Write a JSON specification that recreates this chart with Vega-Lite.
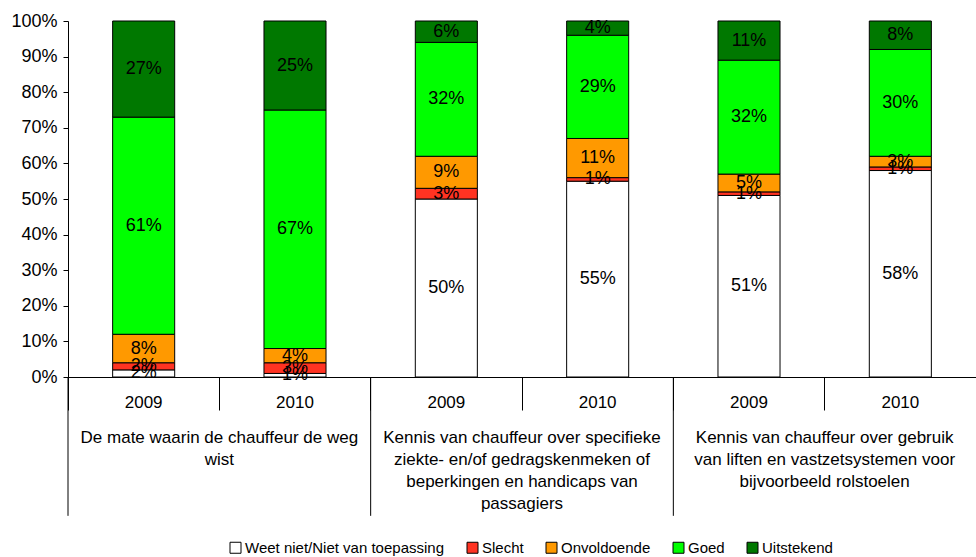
{
  "$schema": "https://vega.github.io/schema/vega-lite/v6.json",
  "width": 908,
  "height": 356,
  "autosize": "none",
  "padding": {"left": 68, "top": 21, "right": 0, "bottom": 180},
  "background": "white",
  "config": {
    "font": "Liberation Sans",
    "view": {"stroke": null},
    "axis": {"domainColor": "black", "tickColor": "black", "labelColor": "black", "grid": false, "title": null, "labelOverlap": false, "labelSeparation": 0},
    "axisY": {"tickCount": 11, "labelOverlap": false, "labelFontSize": 18, "tickSize": 5, "labelPadding": 6}
  },
  "datasets": {
    "bars": [
      {"key": "A 2009", "cat": "Weet niet/Niet van toepassing", "value": 0.02},
      {"key": "A 2009", "cat": "Slecht", "value": 0.02},
      {"key": "A 2009", "cat": "Onvoldoende", "value": 0.08},
      {"key": "A 2009", "cat": "Goed", "value": 0.61},
      {"key": "A 2009", "cat": "Uitstekend", "value": 0.27},
      {"key": "A 2010", "cat": "Weet niet/Niet van toepassing", "value": 0.01},
      {"key": "A 2010", "cat": "Slecht", "value": 0.03},
      {"key": "A 2010", "cat": "Onvoldoende", "value": 0.04},
      {"key": "A 2010", "cat": "Goed", "value": 0.67},
      {"key": "A 2010", "cat": "Uitstekend", "value": 0.25},
      {"key": "B 2009", "cat": "Weet niet/Niet van toepassing", "value": 0.50},
      {"key": "B 2009", "cat": "Slecht", "value": 0.03},
      {"key": "B 2009", "cat": "Onvoldoende", "value": 0.09},
      {"key": "B 2009", "cat": "Goed", "value": 0.32},
      {"key": "B 2009", "cat": "Uitstekend", "value": 0.06},
      {"key": "B 2010", "cat": "Weet niet/Niet van toepassing", "value": 0.55},
      {"key": "B 2010", "cat": "Slecht", "value": 0.01},
      {"key": "B 2010", "cat": "Onvoldoende", "value": 0.11},
      {"key": "B 2010", "cat": "Goed", "value": 0.29},
      {"key": "B 2010", "cat": "Uitstekend", "value": 0.04},
      {"key": "C 2009", "cat": "Weet niet/Niet van toepassing", "value": 0.51},
      {"key": "C 2009", "cat": "Slecht", "value": 0.01},
      {"key": "C 2009", "cat": "Onvoldoende", "value": 0.05},
      {"key": "C 2009", "cat": "Goed", "value": 0.32},
      {"key": "C 2009", "cat": "Uitstekend", "value": 0.11},
      {"key": "C 2010", "cat": "Weet niet/Niet van toepassing", "value": 0.58},
      {"key": "C 2010", "cat": "Slecht", "value": 0.01},
      {"key": "C 2010", "cat": "Onvoldoende", "value": 0.03},
      {"key": "C 2010", "cat": "Goed", "value": 0.30},
      {"key": "C 2010", "cat": "Uitstekend", "value": 0.08}
    ],
    "groups": [
      {"key": "A 2009", "group": "De mate waarin de chauffeur de weg\nwist"},
      {"key": "B 2009", "group": "Kennis van chauffeur over specifieke\nziekte- en/of gedragskenmeken  of\nbeperkingen en handicaps van\npassagiers"},
      {"key": "C 2009", "group": "Kennis van chauffeur over gebruik\nvan liften en vastzetsystemen voor\nbijvoorbeeld rolstoelen"}
    ]
  },
  "layer": [
    {
      "data": {"name": "bars"},
      "transform": [{"calculate": "indexof(['Weet niet/Niet van toepassing','Slecht','Onvoldoende','Goed','Uitstekend'], datum.cat)", "as": "rank"}],
      "mark": {"type": "bar", "width": {"band": 0.41}, "stroke": "black", "strokeWidth": 1},
      "encoding": {
        "x": {
          "field": "key", "type": "nominal", "sort": null,
          "scale": {"paddingInner": 0, "paddingOuter": 0},
          "axis": {"bandPosition": 0, "tickSize": 33, "labelExpr": "slice(datum.label, 2)", "labelFontSize": 17, "labelPadding": -16, "labelAngle": 0, "labelBaseline": "top"}
        },
        "y": {
          "field": "value", "type": "quantitative", "stack": "zero",
          "scale": {"domain": [0, 1], "nice": false},
          "axis": {"format": ".0%", "values": [0, 0.1, 0.2, 0.3, 0.4, 0.5, 0.6, 0.7, 0.8, 0.9, 1], "tickCount": 11}
        },
        "order": {"field": "rank", "type": "quantitative", "sort": "ascending"},
        "color": {
          "field": "cat", "type": "nominal",
          "sort": ["Weet niet/Niet van toepassing", "Slecht", "Onvoldoende", "Goed", "Uitstekend"],
          "scale": {
            "domain": ["Weet niet/Niet van toepassing", "Slecht", "Onvoldoende", "Goed", "Uitstekend"],
            "range": ["#FFFFFF", "#FF3322", "#FF9900", "#00FF00", "#007800"]
          },
          "legend": {
            "title": null, "orient": "none", "direction": "horizontal", "legendX": 160, "legendY": 519,
            "symbolType": "square", "symbolSize": 121, "symbolStrokeColor": "black", "symbolStrokeWidth": 1,
            "labelFontSize": 15, "labelColor": "black", "labelOffset": 2, "columnPadding": 20, "labelLimit": 400
          }
        }
      }
    },
    {
      "data": {"name": "bars"},
      "transform": [{"calculate": "indexof(['Weet niet/Niet van toepassing','Slecht','Onvoldoende','Goed','Uitstekend'], datum.cat)", "as": "rank"}],
      "mark": {"type": "text", "fontSize": 18, "baseline": "middle", "align": "center", "color": "black"},
      "encoding": {
        "x": {"field": "key", "type": "nominal", "sort": null},
        "y": {"field": "value", "type": "quantitative", "stack": "zero", "bandPosition": 0.5},
        "order": {"field": "rank", "type": "quantitative", "sort": "ascending"},
        "detail": {"field": "cat", "type": "nominal"},
        "text": {"field": "value", "type": "quantitative", "format": ".0%"}
      }
    },
    {
      "data": {"name": "groups"},
      "mark": {"type": "rule", "color": "black", "strokeWidth": 1},
      "encoding": {
        "x": {"field": "key", "type": "nominal", "sort": null, "bandPosition": 0},
        "y": {"datum": 0, "type": "quantitative"},
        "y2": {"datum": -0.39}
      }
    },
    {
      "data": {"name": "groups"},
      "mark": {"type": "text", "fontSize": 17, "baseline": "top", "align": "center", "lineBreak": "\n", "lineHeight": 22, "color": "black"},
      "encoding": {
        "x": {"field": "key", "type": "nominal", "sort": null, "bandPosition": 1},
        "y": {"datum": -0.15, "type": "quantitative"},
        "text": {"field": "group"}
      }
    }
  ]
}
